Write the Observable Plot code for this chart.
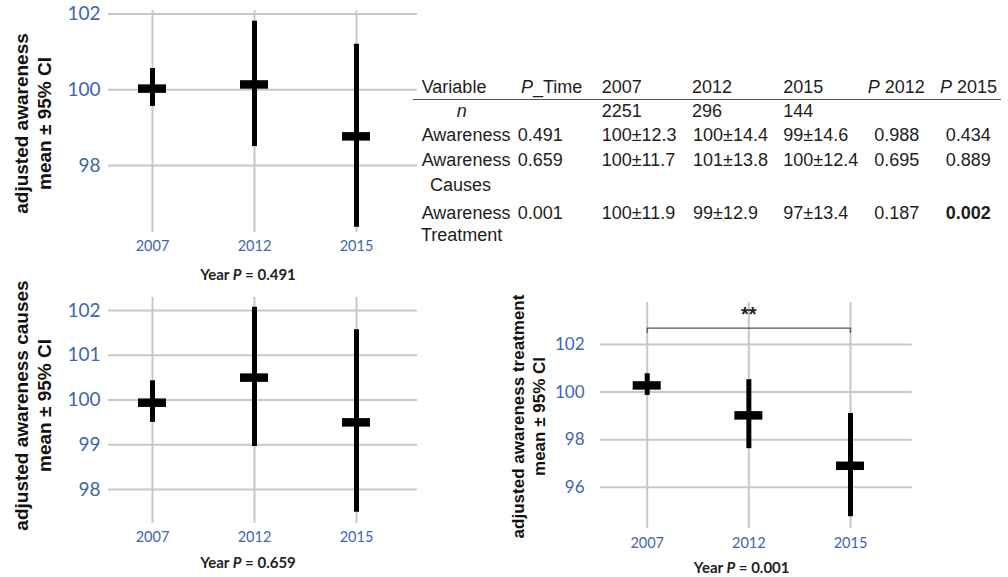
<!DOCTYPE html>
<html><head><meta charset="utf-8">
<script src="https://cdn.jsdelivr.net/npm/d3@7"></script>
<script src="https://cdn.jsdelivr.net/npm/@observablehq/plot@0.6"></script>
<style>
html,body{margin:0;padding:0;background:#fff;}
#fig{position:relative;width:1008px;height:577px;overflow:hidden;font-family:"Liberation Sans",Arial,sans-serif;}
.abs{position:absolute;white-space:nowrap;}
.cap{font-family:Lato,sans-serif;font-weight:bold;font-size:15px;color:#222;transform:translate(-50%,-50%);}
.cell{font-size:18px;line-height:20px;color:#1e1e1e;}
</style></head><body><div id="fig"></div>
<script>
// ---------- data ----------
const years = ["2007", "2012", "2015"];

const awarenessMean = [100.03, 100.14, 98.77];
const awarenessLo   = [99.56, 98.50, 96.37];
const awarenessHi   = [100.56, 101.81, 101.20];

const causesMean = [99.94, 100.50, 99.50];
const causesLo   = [99.50, 98.96, 97.49];
const causesHi   = [100.43, 102.07, 101.57];

const treatmentMean = [100.28, 99.02, 96.90];
const treatmentLo   = [99.86, 97.62, 94.76];
const treatmentHi   = [100.77, 100.52, 99.10];

const ticksAwareness = [98, 100, 102];
const ticksCauses = [98, 99, 100, 101, 102];
const ticksTreatment = [96, 98, 100, 102];

const yLabels = ["adjusted awareness\nmean ± 95% CI", "adjusted awareness causes\nmean ± 95% CI", "adjusted awareness treatment\nmean ± 95% CI"];
const pTime = ["0.491", "0.659", "0.001"];

// significance bracket (2007 vs 2015, treatment)
const bracket = [{year: "2007", y: 102.5}, {year: "2007", y: 102.69}, {year: "2015", y: 102.69}, {year: "2015", y: 102.5}];
const bracketLabel = [{year: "2012", y: 102.69, text: "**"}];

// table
const tableHeader = ["Variable", "P_Time", "2007", "2012", "2015", "P 2012", "P 2015"];
const tableN = ["2251", "296", "144"];
const tableVar1 = ["Awareness", "Awareness", "Awareness"];
const tableVar2 = ["", "Causes", "Treatment"];
const cells2007 = ["100±12.3", "100±11.7", "100±11.9"];
const cells2012 = ["100±14.4", "101±13.8", "99±12.9"];
const cells2015 = ["99±14.6", "100±12.4", "97±13.4"];
const p2012 = ["0.988", "0.695", "0.187"];
const p2015 = ["0.434", "0.889", "0.002"];

// ---------- style ----------
const BLUE = "#3d65b0";
const GRID = "#c8c8c8";
const fig = document.getElementById("fig");

function place(el, left, top) {
  const d = document.createElement("div");
  d.className = "abs";
  d.style.left = left + "px";
  d.style.top = top + "px";
  d.appendChild(el);
  fig.appendChild(d);
  return d;
}

function panel(o) {
  const rows = years.map((year, i) => ({year, mean: o.mean[i], lo: o.lo[i], hi: o.hi[i]}));
  return Plot.plot({
    width: o.width, height: o.height,
    marginTop: o.mt, marginBottom: o.mb, marginLeft: o.ml, marginRight: o.mr,
    style: {fontFamily: "Lato, sans-serif", background: "transparent", overflow: "visible"},
    x: {type: "band", domain: years, range: o.xRange, paddingInner: o.padIn, paddingOuter: 0, align: 0.5, round: false},
    y: {domain: o.yDomain, range: o.yRange},
    marks: [
      Plot.gridY(o.yTicks, {stroke: GRID, strokeOpacity: 1, strokeWidth: 2}),
      Plot.gridX({stroke: GRID, strokeOpacity: 1, strokeWidth: 2}),
      Plot.axisY(o.yTicks, {tickSize: 0, tickPadding: o.yPad, fontSize: o.yFont, color: BLUE, label: null, tickFormat: d => String(d)}),
      Plot.axisX({tickSize: 0, tickPadding: o.xPad, fontSize: 14.5, color: BLUE, label: null}),
      Plot.ruleX(rows, {x: "year", y1: "lo", y2: "hi", stroke: "#000", strokeWidth: 5}),
      Plot.tickY(rows, {x: "year", y: "mean", stroke: "#000", strokeWidth: 8.5}),
      Plot.text([o.label], {frameAnchor: "left", text: d => d, rotate: -90, dx: o.labelDx, dy: o.labelDy,
        fontFamily: "Liberation Sans, Arial, sans-serif", fontWeight: "bold", fontSize: o.labelFont,
        lineHeight: o.labelLH, fill: "#111", lineAnchor: "middle", textAnchor: "middle"}),
      ...(o.extra || [])
    ]
  });
}

// Panel 1: awareness
place(panel({
  mean: awarenessMean, lo: awarenessLo, hi: awarenessHi,
  width: 430, height: 285, mt: 10, mb: 53, ml: 108, mr: 13,
  xRange: [138, 370], padIn: 0.7255,
  yDomain: [98, 102], yRange: [165, 13.5], yTicks: ticksAwareness,
  yFont: 19, yPad: 8, xPad: 8,
  label: yLabels[0], labelFont: 19, labelLH: 1.21, labelDx: -76, labelDy: 2
}), 0, 0);

// Panel 2: causes
place(panel({
  mean: causesMean, lo: causesLo, hi: causesHi,
  width: 430, height: 290, mt: 12, mb: 52, ml: 108, mr: 13,
  xRange: [138, 370], padIn: 0.7255,
  yDomain: [98, 102], yRange: [204, 25], yTicks: ticksCauses,
  yFont: 19, yPad: 8, xPad: 8,
  label: yLabels[1], labelFont: 19, labelLH: 1.21, labelDx: -76, labelDy: -5
}), 0, 285);

// Panel 3: treatment
place(panel({
  mean: treatmentMean, lo: treatmentLo, hi: treatmentHi,
  width: 430, height: 287, mt: 12, mb: 49, ml: 110, mr: 8.3,
  xRange: [142.7, 374], padIn: 0.7246,
  yDomain: [96, 102], yRange: [196.7, 54], yTicks: ticksTreatment,
  yFont: 17, yPad: 16, xPad: 9,
  label: yLabels[2], labelFont: 17, labelLH: 1.24, labelDx: -72.5, labelDy: 1,
  extra: [
    Plot.line(bracket, {x: "year", y: "y", stroke: "#555", strokeWidth: 1.3}),
    Plot.text(bracketLabel, {x: "year", y: "y", text: "text", dy: -13, fontSize: 20, fontWeight: "bold", fontFamily: "Liberation Sans, Arial, sans-serif", fill: "#222"})
  ]
}), 490, 290);

// Captions "Year P = ..."
const capPos = [[248, 274], [248, 562], [741.7, 566.7]];
pTime.forEach((p, i) => {
  const s = document.createElement("span");
  s.innerHTML = `Year <i>P</i> = ${p}`;
  const d = place(s, capPos[i][0], capPos[i][1]);
  d.classList.add("cap");
});

// Table
function cell(html, left, center, extra) {
  const s = document.createElement("span");
  s.innerHTML = html;
  const d = place(s, left, center - 10);
  d.classList.add("cell");
  if (extra) Object.assign(d.style, extra);
  return d;
}
const italicP = t => t.replace(/^P/, "<i>P</i>");
const headLeft = [421.7, 521, 601.7, 692, 783.3, 867.7, 940];
tableHeader.forEach((h, j) => cell(italicP(h), headLeft[j], 87.3));
const rule = document.createElement("div");
rule.className = "abs";
Object.assign(rule.style, {left: "413px", top: "98.5px", width: "588px", height: "1.6px", background: "#555"});
fig.appendChild(rule);

cell("<i>n</i>", 456.7, 110.7);
tableN.forEach((v, j) => cell(v, headLeft[2 + j], 110.7));

const rowCenter = [135, 160, 213.3];
const row2Center = [null, 185, 235];
const row2Left = [null, 430, 421];
tableVar1.forEach((v, i) => {
  cell(v, 421.7, rowCenter[i]);
  if (tableVar2[i]) cell(tableVar2[i], row2Left[i], row2Center[i]);
  cell(pTime[i], 517.7, rowCenter[i]);
  cell(cells2007[i], 601.7, rowCenter[i]);
  cell(cells2012[i], 693, rowCenter[i]);
  cell(cells2015[i], 783.3, rowCenter[i]);
  cell(p2012[i], 874.3, rowCenter[i]);
  cell(p2015[i], 945.7, rowCenter[i], +p2015[i] < 0.05 ? {fontWeight: "bold"} : null);
});
</script></body></html>
